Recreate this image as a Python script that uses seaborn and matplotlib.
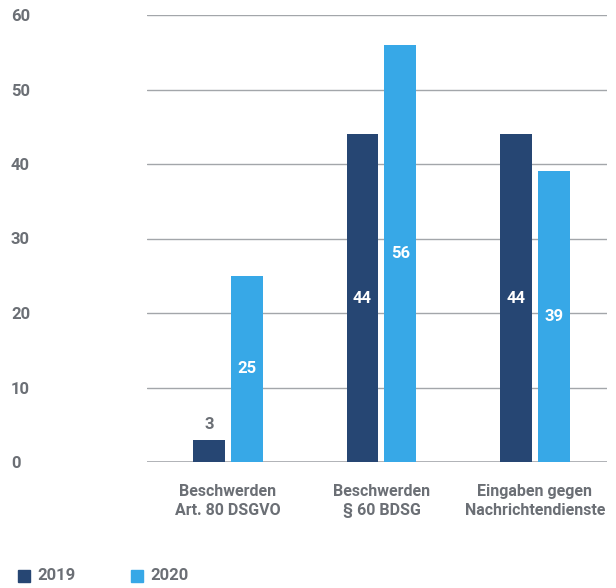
import matplotlib
matplotlib.use("Agg")
import matplotlib.pyplot as plt
import seaborn as sns
import pandas as pd
from matplotlib.patches import Rectangle

categories = ["Beschwerden\nArt. 80 DSGVO", "Beschwerden\n§ 60 BDSG", "Eingaben gegen\nNachrichtendienste"]
values_2019 = [3, 44, 44]
values_2020 = [25, 56, 39]
years = ["2019", "2020"]
yticks = [0, 10, 20, 30, 40, 50, 60]

DARK = "#264673"
LIGHT = "#37a8e7"
GRAY = "#6b6f75"

sns.set_style("white")
plt.rcParams['font.family'] = ['Roboto', 'DejaVu Sans']

df = pd.DataFrame({
    "cat": categories * 2,
    "year": [years[0]] * 3 + [years[1]] * 3,
    "val": values_2019 + values_2020,
})

fig = plt.figure(figsize=(6.16, 5.88), dpi=100)
ax = fig.add_axes([147/616, 126/588, 460/616, 447/588])

sns.barplot(data=df, x="cat", y="val", hue="year", palette=[DARK, LIGHT],
            width=0.495, gap=0.16, ax=ax, legend=False, zorder=3, errorbar=None,
            saturation=1, linewidth=0)

ax.set_xlim(-0.528, 2.47)
ax.set_ylim(0, 60)
ax.set_yticks(yticks)
ax.set_yticklabels([str(t) for t in yticks])
for lab in ax.get_yticklabels():
    lab.set_ha("left")
ax.tick_params(axis="y", length=0, pad=98, labelsize=12, labelcolor=GRAY)
ax.tick_params(axis="x", length=0, pad=16, labelsize=11.5, labelcolor=GRAY)
for lab in ax.get_xticklabels() + ax.get_yticklabels():
    lab.set_fontweight("bold")
    lab.set_linespacing(1.3)
ax.set_xlabel("")
ax.set_ylabel("")
for s in ax.spines.values():
    s.set_visible(False)
for t in yticks:
    ax.axhline(t, color="#a3a6aa", lw=1.2 if t == 0 else 1.0, zorder=1)

# value labels
for i, cont in enumerate(ax.containers):
    for bar in cont:
        h = bar.get_height()
        x = bar.get_x() + bar.get_width() / 2
        if h < 8:
            ax.text(x, h + 1.0, f"{int(round(h))}", ha="center", va="bottom",
                    color=GRAY, fontsize=12, fontweight="bold", zorder=5)
        else:
            ax.text(x, h / 2, f"{int(round(h))}", ha="center", va="center",
                    color="white", fontsize=12, fontweight="bold", zorder=5)

# legend
for (xp, col, lab) in [(18, DARK, years[0]), (131, LIGHT, years[1])]:
    fig.patches.append(Rectangle((xp/616, (588-582)/588), 12/616, 12/588,
                                 transform=fig.transFigure, color=col, figure=fig))
    fig.text((xp + 19)/616, (588-576)/588, lab, ha="left", va="center",
             color=GRAY, fontsize=12, fontweight="bold")

fig.savefig("out.png", dpi=100)
